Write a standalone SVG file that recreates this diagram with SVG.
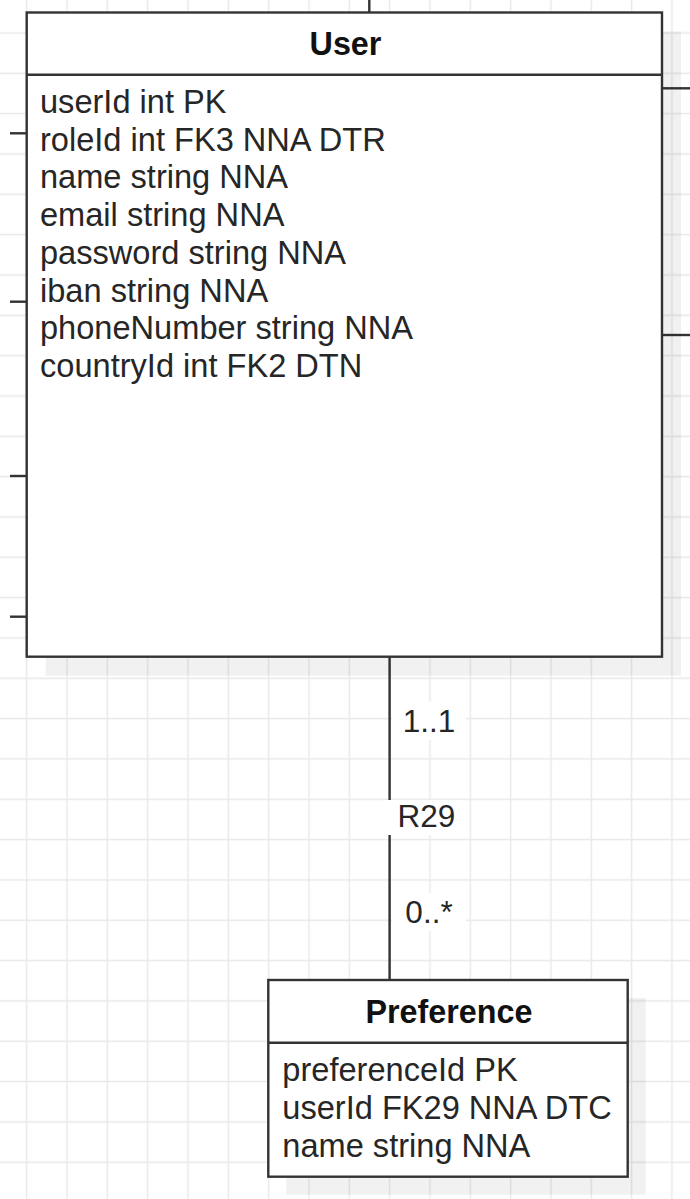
<svg xmlns="http://www.w3.org/2000/svg" width="690" height="1199" viewBox="0 0 690 1199">
  <style>
    .box { fill: #ffffff; stroke: #333333; stroke-width: 2.4; }
    .shadow { fill: #000000; fill-opacity: 0.055; }
    .div { stroke: #333333; stroke-width: 2.4; fill: none; }
    .edge { stroke: #333333; stroke-width: 2.4; fill: none; }
    .title { font-family: "Liberation Sans", Arial, sans-serif; font-size: 32.3px; font-weight: bold; fill: #111111; text-anchor: middle; }
    .attr { font-family: "Liberation Sans", Arial, sans-serif; font-size: 32.6px; fill: #262626; }
    .lbl { font-family: "Liberation Sans", Arial, sans-serif; font-size: 31.5px; fill: #262626; text-anchor: middle; }
    .lblbg { fill: #ffffff; }
  </style>
  <defs>
    <pattern id="gridPat" patternUnits="userSpaceOnUse" x="6.505" y="12.835" width="40.33" height="40.33">
      <path d="M20.165 0 V40.33 M0 20.165 H40.33" stroke="#e8e8e8" stroke-width="1.4" fill="none"/>
    </pattern>
  </defs>

  <rect x="0" y="0" width="690" height="1199" fill="#ffffff"/>
  <rect id="grid" x="0" y="0" width="690" height="1199" fill="url(#gridPat)"/>

  <g id="connectors">
    <line class="edge" x1="369.3" y1="0" x2="369.3" y2="12.5"/>
    <line class="edge" x1="10" y1="133.3" x2="26.7" y2="133.3"/>
    <line class="edge" x1="10" y1="301.7" x2="26.7" y2="301.7"/>
    <line class="edge" x1="10" y1="476" x2="26.7" y2="476"/>
    <line class="edge" x1="10" y1="616.7" x2="26.7" y2="616.7"/>
    <line class="edge" x1="662" y1="88.3" x2="690" y2="88.3"/>
    <line class="edge" x1="662" y1="335" x2="690" y2="335"/>
    <g id="edge-R29">
      <line class="edge" x1="389.6" y1="656.7" x2="389.6" y2="980"/>
      <rect class="lblbg" x="392" y="702" width="74" height="38"/>
      <text class="lbl" x="429" y="731.7">1..1</text>
      <rect class="lblbg" x="388" y="800" width="74" height="35"/>
      <text class="lbl" x="426.5" y="826.7">R29</text>
      <rect class="lblbg" x="392" y="893" width="74" height="38"/>
      <text class="lbl" x="429" y="923">0..*</text>
    </g>
  </g>

  <g id="node-user">
    <rect class="shadow" x="45.7" y="31.5" width="635.3" height="644.2"/>
    <rect class="box" x="26.7" y="12.5" width="635.3" height="644.2"/>
    <line class="div" x1="26.7" y1="74.8" x2="662" y2="74.8"/>
    <text class="title" x="345.5" y="55">User</text>
    <text class="attr" x="40" y="113">userId int PK</text>
    <text class="attr" x="40" y="150.7">roleId int FK3 NNA DTR</text>
    <text class="attr" x="40" y="188.4">name string NNA</text>
    <text class="attr" x="40" y="226.1">email string NNA</text>
    <text class="attr" x="40" y="263.8">password string NNA</text>
    <text class="attr" x="40" y="301.5">iban string NNA</text>
    <text class="attr" x="40" y="339.2">phoneNumber string NNA</text>
    <text class="attr" x="40" y="376.9">countryId int FK2 DTN</text>
  </g>

  <g id="node-preference">
    <rect class="shadow" x="286.3" y="998" width="359.4" height="196.7"/>
    <rect class="box" x="268.3" y="980" width="359.4" height="196.7"/>
    <line class="div" x1="268.3" y1="1042.7" x2="627.7" y2="1042.7"/>
    <text class="title" x="449" y="1023.3">Preference</text>
    <text class="attr" x="282.3" y="1080.5">preferenceId PK</text>
    <text class="attr" x="282.3" y="1118.5">userId FK29 NNA DTC</text>
    <text class="attr" x="282.3" y="1156.5">name string NNA</text>
  </g>
</svg>
